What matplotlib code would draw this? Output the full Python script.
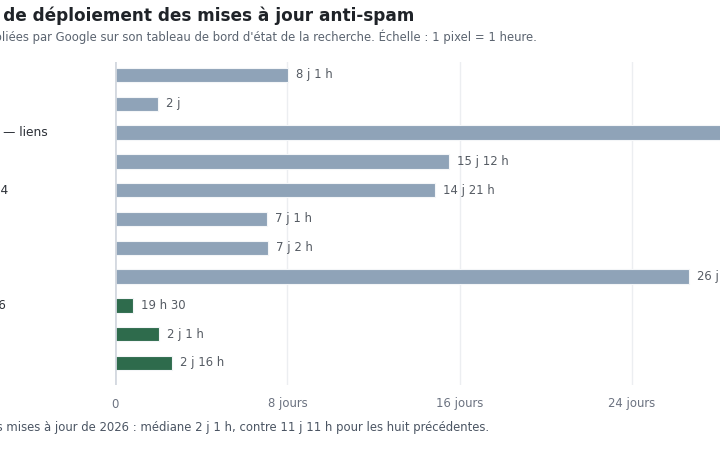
import matplotlib
matplotlib.use("Agg")
import matplotlib.pyplot as plt
import matplotlib.transforms as mtransforms

# Données : durée de déploiement en heures
names = [
    "Novembre 2021",
    "Octobre 2022",
    "Décembre 2022 — liens",
    "Octobre 2023",
    "Début mars 2024",
    "Juin 2024",
    "Déc. 2024",
    "Août 2025",
    "Début janv. 2026",
    "Mars 2026",
    "Avril 2026",
]
years = [2021, 2022, 2022, 2023, 2024, 2024, 2024, 2025, 2026, 2026, 2026]
hours = [193, 48, 696, 372, 357, 169, 170, 639, 19.5, 49, 64]
value_labels = ["8 j 1 h", "2 j", "29 j", "15 j 12 h", "14 j 21 h", "7 j 1 h",
                "7 j 2 h", "26 j 15 h", "19 h 30", "2 j 1 h", "2 j 16 h"]
tick_hours = [0, 192, 384, 576]
tick_labels = ["0", "8 jours", "16 jours", "24 jours"]

GREY = "#8fa3b8"
GREEN = "#2e6b4c"

W, H = 720, 450
fig = plt.figure(figsize=(7.2, 4.5), dpi=100)
ax = fig.add_axes([115 / W, 1 - 385 / H, 605 / W, 323 / H])

px_per_hour = (632 - 115) / 576
rows = list(range(len(names)))
colors = [GREEN if y == 2026 else GREY for y in years]

ax.barh(rows, hours, height=0.5, color=colors, edgecolor="#f4f6f8", linewidth=0.8, zorder=3)
ax.set_xlim(0, 605 / px_per_hour)
ax.set_ylim(10.764, -0.45)

ax.set_xticks(tick_hours, tick_labels)
ax.tick_params(axis="x", length=0, pad=9, labelsize=8.4, labelcolor="#6b7280")
ax.set_yticks([])
for s in ax.spines.values():
    s.set_visible(False)
ax.grid(axis="x", color="#eceef1", linewidth=1, zorder=0)
ax.axvline(0, color="#d4d9e0", linewidth=2, zorder=4)

for i, (h, lab) in enumerate(zip(hours, value_labels)):
    ax.annotate(lab, (h, i), xytext=(5.8, 0), textcoords="offset points",
                va="center", ha="left", fontsize=8.4, color="#555b63",
                annotation_clip=False)

trans = mtransforms.blended_transform_factory(fig.transFigure, ax.transData)
for i, n in enumerate(names):
    ax.text(-99 / W, i, n, transform=trans, ha="left", va="center",
            fontsize=8.8, color="#2b2f36", clip_on=False)

fig.text(414 / W, 1 - 16 / H, "Durée de déploiement des mises à jour anti-spam",
         ha="right", va="center", fontsize=12.2, fontweight="bold", color="#1f2328")
fig.text(537 / W, 1 - 37 / H,
         "Durées publiées par Google sur son tableau de bord d'état de la recherche. "
         "Échelle : 1 pixel = 1 heure.",
         ha="right", va="center", fontsize=8.35, color="#5b6470")
fig.text(489 / W, 1 - 428 / H,
         "Les trois mises à jour de 2026 : médiane 2 j 1 h, contre 11 j 11 h pour les huit précédentes.",
         ha="right", va="center", fontsize=8.38, color="#4b5563")

fig.savefig("out.png", dpi=100)
